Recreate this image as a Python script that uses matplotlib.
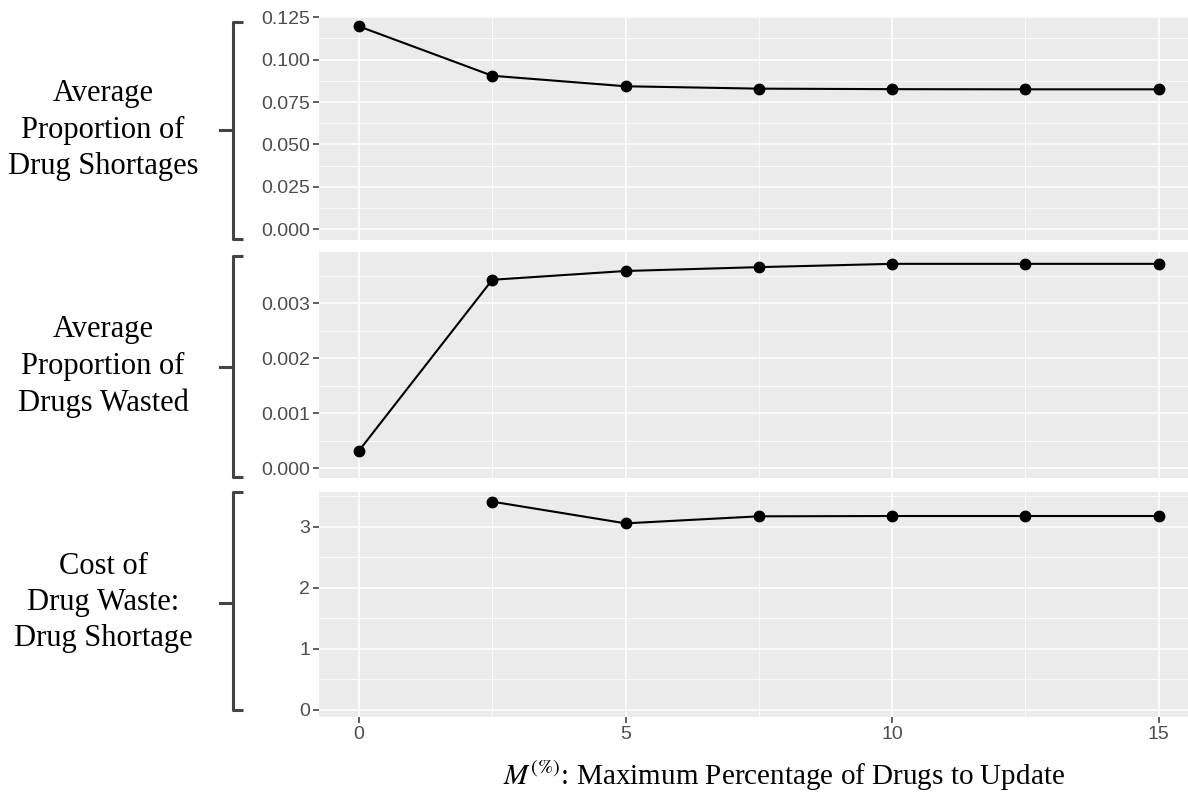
import numpy as np
from matplotlib import pyplot as plt
from matplotlib.lines import Line2D
from matplotlib.ticker import MultipleLocator, FormatStrFormatter

# x values: maximum percentage of drugs to update
m_pct = [0, 2.5, 5, 7.5, 10, 12.5, 15]

# panel values
shortage = [0.1196, 0.0905, 0.0843, 0.0829, 0.0826, 0.0825, 0.0825]
wasted = [0.00032, 0.00343, 0.00359, 0.00366, 0.00372, 0.00372, 0.00372]
cost_ratio = [np.nan, 3.41, 3.055, 3.17, 3.175, 3.175, 3.175]

panel_labels = [
    "Average\nProportion of\nDrug Shortages",
    "Average\nProportion of\nDrugs Wasted",
    "Cost of\nDrug Waste:\nDrug Shortage",
]
x_ticks = [0, 5, 10, 15]
x_label = r"$M^{(\%)}$: Maximum Percentage of Drugs to Update"

W, H = 1188, 795
plt.rcParams["mathtext.fontset"] = "stix"
plt.rcParams["font.family"] = ["Liberation Sans", "DejaVu Sans"]
fig = plt.figure(figsize=(W / 100, H / 100), dpi=100)


def box(x0, y0, x1, y1):
    # pixel box (top-left origin) -> figure fraction
    return [x0 / W, 1 - y1 / H, (x1 - x0) / W, (y1 - y0) / H]


# panel layout in pixels: (top, bottom), y limits, y ticks, format
panels = [
    (16.7, 240.0, (-0.0063, 0.1253), 0.025, 0.0125, "%.3f", shortage),
    (252.3, 478.0, (-0.000177, 0.00393), 0.001, 0.0005, "%.3f", wasted),
    (491.7, 716.7, (-0.11, 3.573), 1, 0.5, "%d", cost_ratio),
]
# brackets: (top, mid, bottom)
brackets = [(22.0, 130.0, 239.0), (256.0, 366.5, 476.7), (491.7, 602.5, 710.0)]

axes = []
for i, (top, bot, ylim, major, minor, fmt, vals) in enumerate(panels):
    ax = fig.add_axes(box(319, top, 1188, bot))
    ax.set_facecolor("#EBEBEB")
    ax.plot(m_pct, vals, color="black", linewidth=1.5, marker="o",
            markersize=7.5, zorder=3, clip_on=False)
    ax.set_xlim(-0.75, 15.55)
    ax.set_ylim(*ylim)
    ax.yaxis.set_major_locator(MultipleLocator(major))
    ax.yaxis.set_minor_locator(MultipleLocator(minor))
    ax.yaxis.set_major_formatter(FormatStrFormatter(fmt))
    ax.set_xticks(x_ticks)
    ax.set_xticks([2.5, 7.5, 12.5], minor=True)
    ax.grid(which="major", color="white", linewidth=1.1)
    ax.grid(which="minor", color="white", linewidth=0.55)
    ax.set_axisbelow(True)
    for s in ax.spines.values():
        s.set_visible(False)
    ax.tick_params(which="major", length=4.5, width=1.1, color="#333333",
                   labelcolor="#4D4D4D", labelsize=14, pad=2)
    ax.tick_params(which="minor", length=0)
    if i < 2:
        ax.tick_params(axis="x", which="both", bottom=False, labelbottom=False)
    axes.append(ax)

    # bracket on the left of each panel
    b_top, b_mid, b_bot = brackets[i]
    xs = [243 / W, 233 / W, 233 / W, 243 / W]
    ys = [1 - b_top / H, 1 - b_top / H, 1 - b_bot / H, 1 - b_bot / H]
    fig.add_artist(Line2D(xs, ys, color="#444444", linewidth=2.2,
                          solid_joinstyle="round", solid_capstyle="butt"))
    fig.add_artist(Line2D([220 / W, 233 / W], [1 - b_mid / H] * 2,
                          color="#444444", linewidth=2.2))

    # panel label
    fig.text(103 / W, 1 - b_mid / H, panel_labels[i], ha="center",
             va="center", family="Liberation Serif", fontsize=22,
             linespacing=1.33, color="black")

fig.text(1065 / W, 1 - 775 / H, x_label, ha="right", va="center",
         family="Liberation Serif", fontsize=21, color="black")

plt.savefig("out.png", dpi=100)
